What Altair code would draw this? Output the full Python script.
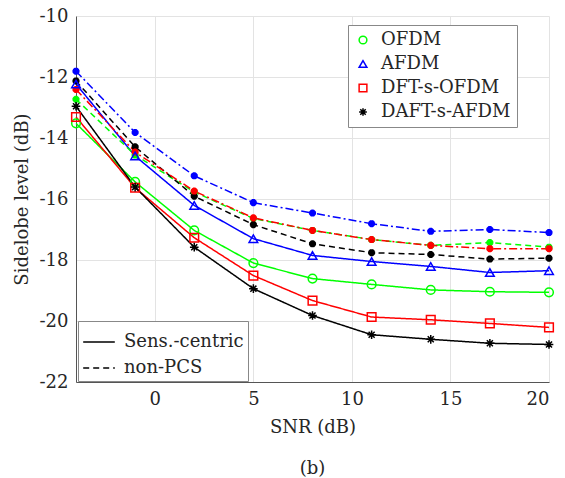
import altair as alt
import pandas as pd

snr = [-4, -1, 2, 5, 8, 11, 14, 17, 20]
schemes = ["OFDM", "AFDM", "DFT-s-OFDM", "DAFT-s-AFDM"]
modes = ["Sens.-centric", "non-PCS"]

# Sens.-centric (solid lines)
sens_ofdm = [-13.52, -15.44, -17.03, -18.10, -18.61, -18.80, -18.98, -19.04, -19.06]
sens_afdm = [-12.23, -14.59, -16.21, -17.30, -17.85, -18.05, -18.21, -18.41, -18.35]
sens_dfts = [-13.31, -15.63, -17.27, -18.51, -19.33, -19.87, -19.96, -20.08, -20.21]
sens_daft = [-12.96, -15.61, -17.58, -18.94, -19.82, -20.45, -20.60, -20.73, -20.77]

# non-PCS (dashed / dash-dot lines)
npcs_ofdm = [-12.73, -14.56, -15.77, -16.64, -17.03, -17.33, -17.52, -17.43, -17.58]
npcs_afdm = [-11.81, -13.82, -15.24, -16.12, -16.46, -16.81, -17.06, -17.00, -17.10]
npcs_dfts = [-12.41, -14.46, -15.74, -16.62, -17.03, -17.33, -17.52, -17.63, -17.63]
npcs_daft = [-12.13, -14.29, -15.91, -16.84, -17.47, -17.76, -17.82, -17.97, -17.94]

colors = ["#00ff00", "#0000ff", "#ff0000", "#000000"]
ASTER = "M0,-1L0,1M-1,0L1,0M-0.7,-0.7L0.7,0.7M-0.7,0.7L0.7,-0.7"
FONT = "DejaVu Serif"
FS = 18


def frame(vals, scheme, mode):
    return pd.DataFrame({"snr": snr, "value": vals, "scheme": scheme, "mode": mode})


sens = pd.concat([
    frame(sens_ofdm, "OFDM", "Sens.-centric"),
    frame(sens_afdm, "AFDM", "Sens.-centric"),
    frame(sens_dfts, "DFT-s-OFDM", "Sens.-centric"),
    frame(sens_daft, "DAFT-s-AFDM", "Sens.-centric"),
])
npcs_dash = pd.concat([
    frame(npcs_ofdm, "OFDM", "non-PCS"),
    frame(npcs_daft, "DAFT-s-AFDM", "non-PCS"),
])
npcs_dashdot = pd.concat([
    frame(npcs_afdm, "AFDM", "non-PCS"),
    frame(npcs_dfts, "DFT-s-OFDM", "non-PCS"),
])
npcs_all = pd.concat([npcs_dash, npcs_dashdot])
lines_a = pd.concat([sens, npcs_dash])

x = alt.X("snr:Q", scale=alt.Scale(domain=[-4, 20], nice=False, zero=False),
          axis=alt.Axis(values=[0, 5, 10, 15, 20], title="SNR (dB)",
                        labelExpr="toString(datum.value)"))
y = alt.Y("value:Q", scale=alt.Scale(domain=[-22, -10], nice=False, zero=False),
          axis=alt.Axis(values=[-22, -20, -18, -16, -14, -12, -10], title="Sidelobe level (dB)",
                        labelExpr="toString(datum.value)"))

color_scale = alt.Scale(domain=schemes, range=colors)
dash_scale = alt.Scale(domain=modes, range=[[1, 0], [6, 4]])

line_a = alt.Chart(lines_a).mark_line(strokeWidth=1.5).encode(
    x=x, y=y,
    color=alt.Color("scheme:N", scale=color_scale, legend=None),
    strokeDash=alt.StrokeDash(
        "mode:N", scale=dash_scale,
        legend=alt.Legend(
            title=None, orient="none", legendX=2, legendY=305,
            symbolType="stroke", symbolStrokeColor="black", symbolSize=1000,
            symbolStrokeWidth=1.5, labelFont=FONT, labelFontSize=FS,
            labelColor="#262626", labelOffset=8, rowPadding=-7, padding=4,
            strokeColor="#888888", fillColor="white",
        ),
    ),
)

line_b = alt.Chart(npcs_dashdot).mark_line(strokeWidth=1.5, strokeDash=[8, 3, 2, 3]).encode(
    x=x, y=y,
    color=alt.Color("scheme:N", scale=color_scale, legend=None),
)

leg1 = alt.Legend(
    title=None, orient="none", legendX=272, legendY=9,
    labelFont=FONT, labelFontSize=FS, labelColor="#262626",
    symbolStrokeWidth=1.5, symbolSize=60, labelOffset=9,
    rowPadding=6, padding=6,
    strokeColor="#888888", fillColor="white",
)

pts_sens = alt.Chart(sens).mark_point(filled=False, strokeWidth=1.5, size=75, opacity=1).encode(
    x=x, y=y,
    color=alt.Color("scheme:N", scale=color_scale, legend=leg1),
    shape=alt.Shape("scheme:N",
                    scale=alt.Scale(domain=schemes, range=["circle", "triangle-up", "square", ASTER]),
                    legend=leg1),
)

pts_npcs = alt.Chart(npcs_all).mark_point(filled=False, strokeWidth=2.5, size=50, shape=ASTER, opacity=1).encode(
    x=x, y=y,
    color=alt.Color("scheme:N", scale=color_scale, legend=None),
)

chart = alt.layer(line_a, line_b, pts_npcs, pts_sens).resolve_legend(
    color="independent", shape="independent", strokeDash="independent"
).properties(
    width=473, height=366,
    autosize=alt.AutoSizeParams(type="none"),
    padding={"left": 76, "top": 16, "right": 16, "bottom": 96},
    title=alt.TitleParams("(b)", orient="bottom", fontSize=FS, font=FONT,
                          fontWeight="normal", color="#262626", offset=24),
).configure_view(stroke=None).configure_axis(
    labelFont=FONT, labelFontSize=FS, labelColor="#262626",
    titleFont=FONT, titleFontSize=FS, titleFontWeight="normal", titleColor="#262626",
    grid=True, gridColor="#e3e3e3", gridWidth=1,
    domainColor="#555555", domainWidth=1, ticks=False, labelPadding=8,
).configure_axisX(titlePadding=10).configure_axisY(titlePadding=8, labelPadding=8)

chart.save("out.html", embed_options={"renderer": "svg", "actions": False})
